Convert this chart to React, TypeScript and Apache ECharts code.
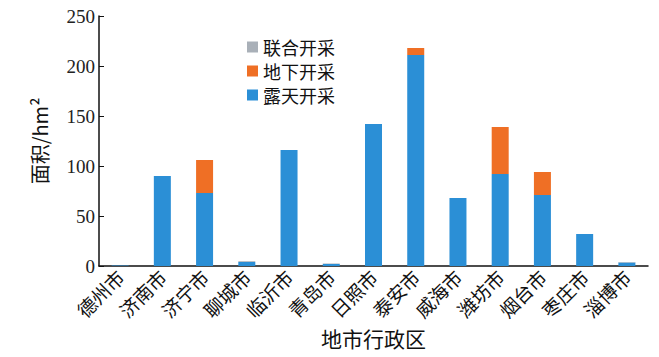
import React, { useEffect, useRef } from "react";
import * as echarts from "echarts";

const categories = ["德州市", "济南市", "济宁市", "聊城市", "临沂市", "青岛市", "日照市", "泰安市", "威海市", "潍坊市", "烟台市", "枣庄市", "淄博市"];
const openPit = [0.5, 90, 73, 4, 116, 2, 142, 211, 68, 92, 71, 32, 3.5];
const underground = [0, 0, 33, 0, 0, 0, 0, 7, 0, 47, 23, 0, 0];
const joint = [0, 0, 0, 0.8, 0, 0.5, 0, 0, 0, 0, 0, 0, 0.5];
const yTicks = [0, 50, 100, 150, 200, 250];

const serif = "'Liberation Serif', 'Noto Sans CJK SC', serif";
const cjk = "'Noto Sans CJK SC', 'Liberation Serif', serif";

export default function App() {
  const ref = useRef<HTMLDivElement>(null);
  useEffect(() => {
    const chart = echarts.init(ref.current!, undefined, { renderer: "svg" });
    chart.setOption({
      animation: false,
      backgroundColor: "#ffffff",
      grid: { left: 99, right: 11, top: 16, bottom: 91, containLabel: false, outerBoundsMode: "none" },
      legend: {
        orient: "vertical",
        left: 242,
        top: 33,
        itemWidth: 11,
        itemHeight: 11,
        itemGap: 6,
        icon: "rect",
        data: ["联合开采", "地下开采", "露天开采"],
        textStyle: { fontFamily: cjk, fontSize: 18, color: "#111" },
      },
      xAxis: {
        type: "category",
        data: categories,
        name: "地市行政区",
        nameLocation: "middle",
        nameGap: 61,
        nameTextStyle: { fontFamily: cjk, fontSize: 21, color: "#111" },
        axisLine: { lineStyle: { color: "#111", width: 1.5 } },
        axisTick: { inside: true, alignWithLabel: true, length: 5, lineStyle: { color: "#111" } },
        axisLabel: { rotate: 45, fontFamily: cjk, fontSize: 19, color: "#111", margin: 7, interval: 0 },
      },
      yAxis: {
        type: "value",
        min: yTicks[0],
        max: yTicks[yTicks.length - 1],
        interval: 50,
        name: "面积/hm²",
        nameLocation: "middle",
        nameRotate: 90,
        nameGap: 50,
        nameTextStyle: { fontFamily: cjk, fontSize: 20, color: "#111" },
        splitLine: { show: false },
        axisLine: { show: true, lineStyle: { color: "#111", width: 1.5 } },
        axisTick: { show: true, inside: true, length: 5, lineStyle: { color: "#111" } },
        axisLabel: { fontFamily: serif, fontSize: 19, color: "#222", margin: 4 },
      },
      series: [
        {
          name: "露天开采",
          type: "bar",
          stack: "total",
          barWidth: 17,
          data: openPit,
          itemStyle: { color: "#2b8fd6" },
        },
        {
          name: "地下开采",
          type: "bar",
          stack: "total",
          barWidth: 17,
          data: underground,
          itemStyle: { color: "#ef6f25" },
        },
        {
          name: "联合开采",
          type: "bar",
          stack: "total",
          barWidth: 17,
          data: joint,
          itemStyle: { color: "#a9b0b8" },
        },
      ],
    });
    return () => chart.dispose();
  }, []);
  return <div ref={ref} style={{ width: 659, height: 357, position: "absolute", left: 0, top: 0 }} />;
}
